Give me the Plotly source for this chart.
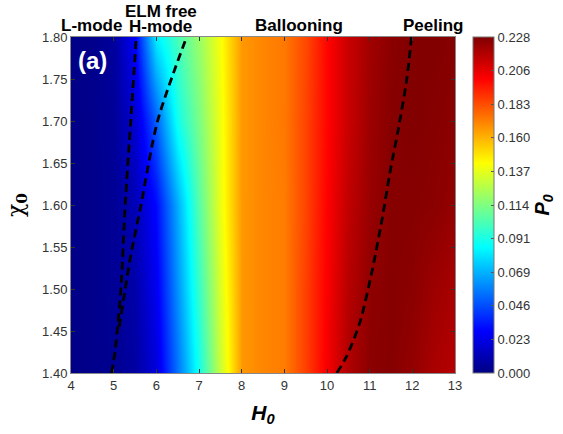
import plotly.graph_objects as go

# ---------------- data ----------------
H0 = [4.0, 4.5, 5.0, 5.5, 6.0, 6.5, 7.0, 7.5, 8.0, 8.5, 9.0, 9.5,
      10.0, 10.5, 11.0, 11.5, 12.0, 12.5, 13.0]
chi0 = [1.40, 1.50, 1.60, 1.70, 1.80]

P0_chi140 = [0.001, 0.002, 0.003, 0.007, 0.020, 0.055, 0.090, 0.130, 0.166, 0.170,
             0.172, 0.186, 0.202, 0.218, 0.226, 0.227, 0.224, 0.219, 0.216]
P0_chi150 = [0.001, 0.002, 0.004, 0.009, 0.025, 0.062, 0.098, 0.134, 0.166, 0.170,
             0.172, 0.186, 0.201, 0.216, 0.225, 0.227, 0.226, 0.222, 0.219]
P0_chi160 = [0.001, 0.002, 0.004, 0.012, 0.030, 0.068, 0.105, 0.138, 0.166, 0.170,
             0.172, 0.185, 0.200, 0.214, 0.223, 0.227, 0.227, 0.226, 0.224]
P0_chi170 = [0.001, 0.002, 0.005, 0.018, 0.050, 0.090, 0.113, 0.139, 0.166, 0.170,
             0.173, 0.185, 0.199, 0.212, 0.222, 0.227, 0.228, 0.227, 0.226]
P0_chi180 = [0.001, 0.002, 0.006, 0.028, 0.082, 0.102, 0.120, 0.141, 0.166, 0.170,
             0.173, 0.184, 0.199, 0.212, 0.221, 0.226, 0.228, 0.228, 0.227]

P0_max = 0.2284

# boundary curves (H0, chi0)
lmode_H = [4.95, 5.03, 5.17, 5.27, 5.40, 5.53]
lmode_chi = [1.40, 1.425, 1.50, 1.60, 1.70, 1.80]
elm_H = [5.13, 5.27, 5.40, 5.64, 6.03, 6.71]
elm_chi = [1.455, 1.50, 1.54, 1.60, 1.70, 1.80]
peel_H = [10.23, 10.46, 10.77, 11.05, 11.28, 11.48, 11.67, 11.87, 11.98]
peel_chi = [1.40, 1.42, 1.46, 1.52, 1.58, 1.64, 1.69, 1.75, 1.80]

xticks = [4, 5, 6, 7, 8, 9, 10, 11, 12, 13]
yticks = [1.40, 1.45, 1.50, 1.55, 1.60, 1.65, 1.70, 1.75, 1.80]

# ---------------- figure ----------------
jet = [[0.0, "rgb(0,0,131)"], [0.125, "rgb(0,0,255)"], [0.375, "rgb(0,255,255)"],
       [0.625, "rgb(255,255,0)"], [0.875, "rgb(255,0,0)"], [1.0, "rgb(128,0,0)"]]

z = [P0_chi140, P0_chi150, P0_chi160, P0_chi170, P0_chi180]
cb_vals = [P0_max * k / 10 for k in range(11)]

FONT = "Arial, Liberation Sans, sans-serif"
TICKC = "#333333"

fig = go.Figure()
fig.add_trace(go.Heatmap(
    x=H0, y=chi0, z=z, zsmooth="best", colorscale=jet, zmin=0, zmax=P0_max,
    colorbar=dict(
        x=1.047, xanchor="left", xpad=0, y=0.5, yanchor="middle", ypad=0, len=1.0,
        thickness=21, outlinewidth=1, outlinecolor="#777777",
        tickvals=cb_vals, ticktext=[f"{v:.3f}" for v in cb_vals],
        ticks="inside", ticklen=3, tickcolor="#555555",
        tickfont=dict(family=FONT, size=13, color=TICKC),
        title=dict(text="<b><i>P</i><sub><i>0</i></sub></b>", side="right",
                   font=dict(family=FONT, size=20, color="#000000")),
    ),
    showscale=True,
))

for hx, cy in [(lmode_H, lmode_chi), (elm_H, elm_chi), (peel_H, peel_chi)]:
    fig.add_trace(go.Scatter(x=hx, y=cy, mode="lines",
                             line=dict(color="black", width=2.8, dash="8px,5px",
                                       shape="spline", smoothing=0.8),
                             showlegend=False, hoverinfo="skip"))

axis_common = dict(
    showline=True, linecolor="#888888", linewidth=1, mirror="ticks",
    ticks="inside", ticklen=4, tickcolor="#333333",
    showgrid=True, gridcolor="rgba(40,40,40,0.18)", gridwidth=1,
    zeroline=False, layer="above traces",
    tickfont=dict(family=FONT, size=13, color=TICKC),
)

fig.update_xaxes(range=[4, 13], tickvals=xticks, ticktext=[str(v) for v in xticks],
                 title=dict(text="<b><i>H</i><sub><i>0</i></sub></b>",
                            font=dict(family=FONT, size=21, color="#000000"), standoff=13),
                 **axis_common)
fig.update_yaxes(range=[1.40, 1.80], tickvals=yticks, ticktext=[f"{v:.2f}" for v in yticks],
                 title=dict(text="χ<sub><b>0</b></sub>",
                            font=dict(family="DejaVu Serif, serif", size=22, color="#000000"),
                            standoff=12),
                 **axis_common)

def ann(text, x, y, size=17, color="black"):
    fig.add_annotation(text=text, x=x, y=y, xref="paper", yref="paper",
                       showarrow=False, xanchor="center", yanchor="middle",
                       font=dict(family=FONT, size=size, color=color))

ann("<b>L-mode</b>", 0.053, 1.033)
ann("<b>ELM free</b>", 0.234, 1.076)
ann("<b>H-mode</b>", 0.234, 1.030)
ann("<b>Ballooning</b>", 0.594, 1.033)
ann("<b>Peeling</b>", 0.943, 1.033)
ann("<b>(a)</b>", 0.055, 0.929, size=24, color="white")

fig.update_layout(
    width=563, height=434,
    margin=dict(l=71, r=108, t=37, b=61, autoexpand=False),
    paper_bgcolor="white", plot_bgcolor="white",
    showlegend=False,
)

fig.write_html("out.html")
